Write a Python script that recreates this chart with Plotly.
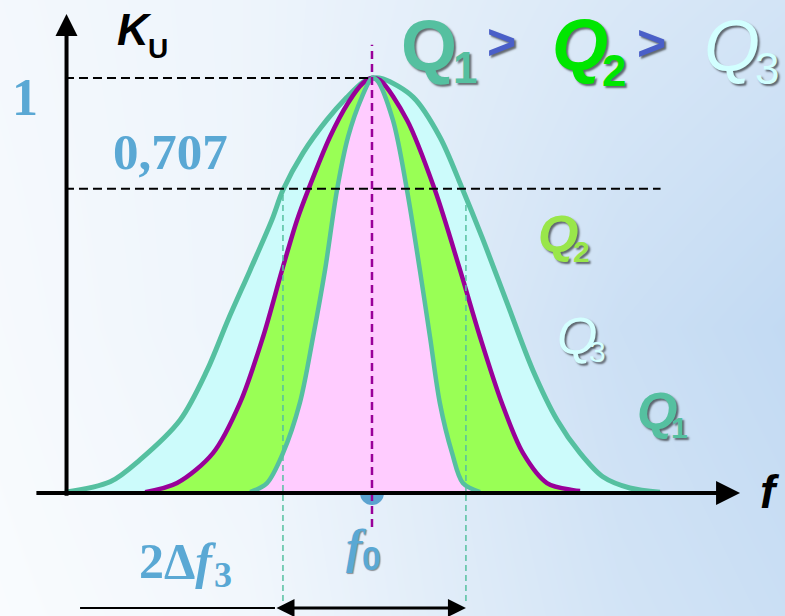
import plotly.graph_objects as go

# frequency axis: f0 = 10, K = 1 at the resonance peak
f0 = 10.0
level = 0.733          # drawn height of the 0,707 line in the picture

# Q1 (wide teal curve)
q1_f = [0.00, 1.47, 2.44, 3.75, 4.63, 5.31, 6.03, 6.74, 7.10, 7.75, 8.53, 9.19, 9.71, 10.00,
        10.36, 11.34, 12.21, 12.96, 13.58, 14.40, 15.24, 16.03, 16.78, 17.52, 18.40, 19.38]
q1_k = [0.002, 0.027, 0.080, 0.176, 0.296, 0.417, 0.537, 0.658, 0.730, 0.819, 0.899, 0.954, 0.990, 1.000,
        0.998, 0.954, 0.858, 0.730, 0.617, 0.458, 0.296, 0.176, 0.096, 0.039, 0.012, 0.002]

# Q2 (purple curve)
q2_f = [2.61, 3.65, 4.82, 5.70, 6.45, 7.07, 7.56, 7.92, 8.63, 9.22, 9.71, 10.00,
        10.26, 11.14, 12.05, 12.87, 13.52, 14.23, 14.92, 15.70, 16.55, 16.78]
q2_k = [0.002, 0.024, 0.096, 0.217, 0.376, 0.537, 0.658, 0.730, 0.858, 0.940, 0.988, 1.000,
        0.995, 0.899, 0.730, 0.537, 0.376, 0.217, 0.096, 0.024, 0.007, 0.005]

# Q3 (narrow teal curve)
q3_f = [6.03, 6.58, 7.10, 7.65, 8.08, 8.47, 8.86, 9.22, 9.67, 10.00,
        10.16, 10.68, 11.14, 11.56, 11.89, 12.21, 12.61, 12.96, 13.52]
q3_k = [0.002, 0.024, 0.096, 0.217, 0.376, 0.537, 0.730, 0.858, 0.954, 1.000,
        0.995, 0.899, 0.730, 0.537, 0.376, 0.217, 0.096, 0.024, 0.002]

band_f = [7.10, 13.06]  # 2*delta f3 limits

TEAL = "#55C0A0"
PURPLE = "#990099"
BLUE = "#5AA8D4"
SHADOW = "2px 2px 2px rgba(0,0,0,0.55)"

X_RANGE = [-2.117, 23.453]
Y_RANGE = [-0.2964, 1.188]

fig = go.Figure()

# soft blue background
fig.add_trace(go.Heatmap(
    x=[-3, 6, 12, 18, 24.5], y=[-0.4, 0.4, 1.3],
    z=[[0.0, 0.12, 0.38, 0.62, 0.78],
       [0.05, 0.2, 0.45, 0.75, 0.92],
       [0.1, 0.2, 0.35, 0.5, 0.62]],
    colorscale=[[0, "#FAFCFE"], [1, "#BCD6F1"]], zmin=0, zmax=1,
    zsmooth="best", showscale=False, hoverinfo="skip"))

# f0 dot (upper half hidden by the fill)
fig.add_trace(go.Scatter(x=[f0], y=[0], mode="markers",
                         marker=dict(size=24, color="#5BA3D0"), hoverinfo="skip"))

fills = [(q1_f, q1_k, "#CCFBFB"), (q2_f, q2_k, "#99FF55"), (q3_f, q3_k, "#FFCCFF")]
for fx, fk, col in fills:
    fig.add_trace(go.Scatter(x=fx, y=fk, mode="lines", fill="tozeroy", fillcolor=col,
                             line=dict(width=0, shape="spline", smoothing=0.9),
                             hoverinfo="skip"))

lines = [(q1_f, q1_k, TEAL, 5), (q2_f, q2_k, PURPLE, 4.5), (q3_f, q3_k, TEAL, 4.5)]
for fx, fk, col, w in lines:
    fig.add_trace(go.Scatter(x=fx, y=fk, mode="lines",
                             line=dict(color=col, width=w, shape="spline", smoothing=0.9),
                             hoverinfo="skip"))

# dashed guide lines
fig.add_shape(type="line", x0=0, x1=f0, y0=1, y1=1,
              line=dict(color="black", width=2, dash="9px,5px"))
fig.add_shape(type="line", x0=0, x1=19.4, y0=level, y1=level,
              line=dict(color="black", width=2, dash="9px,5px"))
fig.add_shape(type="line", x0=f0, x1=f0, y0=-0.082, y1=1.08,
              line=dict(color=PURPLE, width=2.5, dash="8px,5px"))
for bf in band_f:
    fig.add_shape(type="line", x0=bf, x1=bf, y0=level - 0.015, y1=-0.265,
                  line=dict(color=TEAL, width=1.5, dash="6px,4px"))

# axes with arrows
fig.add_annotation(x=0.05, y=1.154, ax=0.05, ay=-0.01, axref="x", ayref="y", text="",
                   showarrow=True, arrowhead=2, arrowsize=1.1, arrowwidth=4,
                   arrowcolor="black", standoff=0)
fig.add_annotation(x=21.99, y=0, ax=-0.98, ay=0, axref="x", ayref="y", text="",
                   showarrow=True, arrowhead=2, arrowsize=1.2, arrowwidth=4,
                   arrowcolor="black", standoff=0)

# bandwidth arrow
fig.add_shape(type="line", x0=0.49, x1=6.84, y0=-0.277, y1=-0.277,
              line=dict(color="black", width=2))
fig.add_annotation(x=band_f[1], y=-0.277, ax=6.84, ay=-0.277, axref="x", ayref="y", text="",
                   showarrow=True, arrowhead=2, startarrowhead=2, arrowside="end+start",
                   arrowsize=1.2, startarrowsize=1.2, arrowwidth=3,
                   arrowcolor="black", standoff=0, startstandoff=0)


def label(x, y, text, size, color, family="Liberation Sans", shadow=None):
    font = dict(size=size, color=color, family=family)
    if shadow:
        font["shadow"] = shadow
    fig.add_annotation(x=x, y=y, text=text, showarrow=False, font=font,
                       xanchor="center", yanchor="middle")


# axis labels
label(2.25, 1.116, "<b><i>K</i></b>", 44, "black")
label(3.03, 1.07, "<b>U</b>", 28, "black")
label(22.95, 0.002, "<b><i>f</i></b>", 46, "black")
label(-1.30, 0.954, "<b>1</b>", 52, BLUE, "Liberation Serif")
label(3.45, 0.822, "<b>0,707</b>", 51, BLUE, "Liberation Serif")
label(3.65, -0.164, "<b>2Δ<i>f</i></b>", 50, BLUE, "Liberation Serif")
label(5.15, -0.198, "<b>3</b>", 36, BLUE, "Liberation Serif")
label(9.48, -0.128, "<b><i>f</i></b>", 48, BLUE, "Liberation Serif",
      "1px 1px 1px rgba(0,0,0,0.4)")
label(10.0, -0.157, "<b>0</b>", 34, BLUE, "Liberation Sans",
      "1px 1px 1px rgba(0,0,0,0.4)")

# Q1 > Q2 > Q3 heading
label(11.85, 1.077, "<b>Q</b>", 72, TEAL, shadow=SHADOW)
label(13.03, 1.026, "<b>1</b>", 44, TEAL, shadow=SHADOW)
label(14.23, 1.087, "<b>&gt;</b>", 50, "#4A5FC8", shadow=SHADOW)
label(16.78, 1.08, "<b><i>Q</i></b>", 72, "#00E600", shadow=SHADOW)
label(17.88, 1.017, "<b>2</b>", 44, "#00E600", shadow=SHADOW)
label(19.12, 1.084, "<b>&gt;</b>", 50, "#4A5FC8", shadow=SHADOW)
label(21.73, 1.077, "<i>Q</i>", 72, "#D2FFFF", shadow=SHADOW)
label(22.87, 1.024, "3", 44, "#D2FFFF", shadow=SHADOW)

# curve labels
label(16.06, 0.624, "<b><i>Q</i></b>", 52, "#99E64A", shadow=SHADOW)
label(16.84, 0.581, "<b>2</b>", 30, "#99E64A", shadow=SHADOW)
label(16.68, 0.378, "<i>Q</i>", 52, "#D4FFFF", shadow=SHADOW)
label(17.36, 0.34, "3", 30, "#D4FFFF", shadow=SHADOW)
label(19.28, 0.198, "<b><i>Q</i></b>", 52, TEAL, shadow=SHADOW)
label(20.03, 0.157, "<b>1</b>", 30, TEAL, shadow=SHADOW)

fig.update_layout(
    width=785, height=616,
    margin=dict(l=0, r=0, t=0, b=0, pad=0),
    paper_bgcolor="#F4F8FC", plot_bgcolor="#F4F8FC",
    showlegend=False,
    xaxis=dict(range=X_RANGE, visible=False, fixedrange=True),
    yaxis=dict(range=Y_RANGE, visible=False, fixedrange=True),
)

# drop the default page margin so the figure fills the window
fig.write_html("out.html", config=dict(displayModeBar=False),
               post_script="document.body.style.margin='0';document.body.style.overflow='hidden';")
